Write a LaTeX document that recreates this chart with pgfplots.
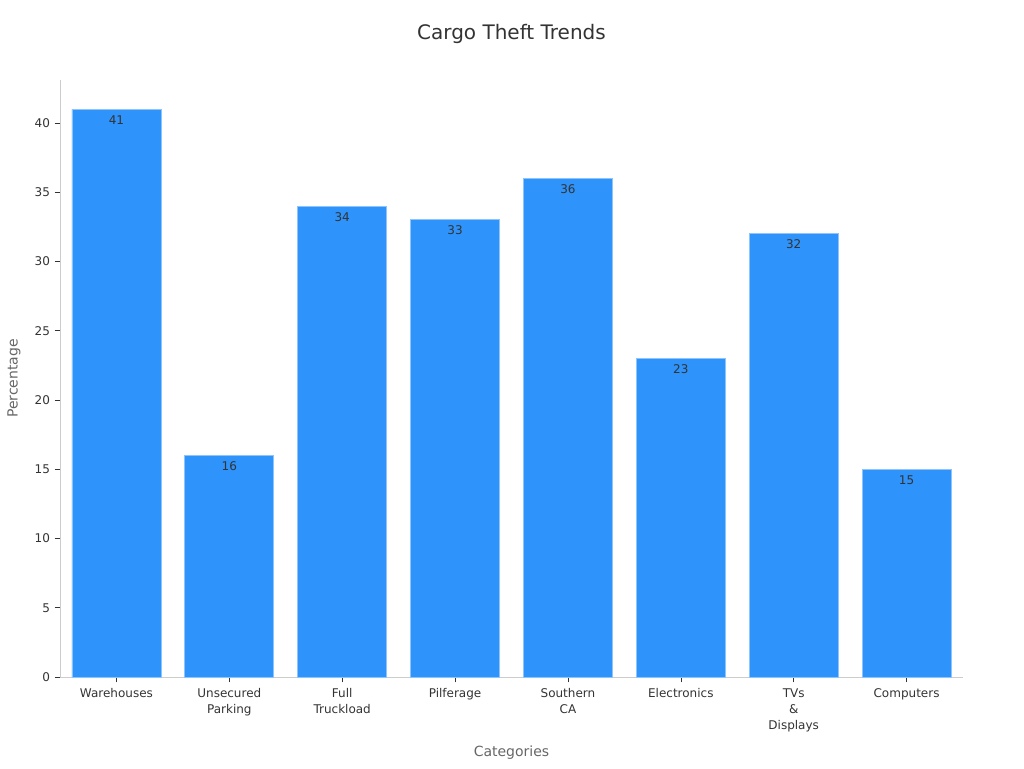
\documentclass[border=0pt]{standalone}
\usepackage{pgfplots}
\pgfplotsset{compat=1.18}
\usepackage{fontspec}
\setmainfont{DejaVu Sans}
\definecolor{barblue}{HTML}{2E93FA}
\definecolor{baredge}{HTML}{8CC4FB}
\definecolor{txt}{HTML}{333333}
\definecolor{lbl}{HTML}{666666}
\definecolor{spine}{HTML}{CCCCCC}
\begin{document}
\begin{tikzpicture}
	\useasboundingbox (-45pt,-68.25pt) rectangle (723pt,507.75pt);
	\begin{axis}[
		at={(0,0)}, anchor=south west,
		scale only axis,
		width=677.25pt,
		height=447.75pt,
		ybar,
		bar width=66.75pt,
		xmin=-0.5, xmax=7.5,
		ymin=0, ymax=43.1,
		xtick=data,
		xticklabels={Warehouses, Unsecured\\Parking, Full\\Truckload, Pilferage, Southern\\CA, Electronics, TVs\\\&\\Displays, Computers},
		x tick label style={align=center, font=\fontsize{9}{12}\selectfont, text=txt, yshift=-1pt},
		ytick={0,5,...,40},
		y tick label style={font=\fontsize{9}{10}\selectfont, text=txt},
		/pgf/number format/assume math mode=true,
		axis x line*=bottom,
		axis y line*=left,
		axis line style={spine},
		tick style={txt, thin},
		tick align=outside,
		major tick length=4pt,
		xlabel={Categories},
		ylabel={Percentage},
		xlabel style={font=\fontsize{10.5}{12}\selectfont, text=lbl, at={(axis description cs:0.5,0)}, anchor=north, yshift=-48pt},
		ylabel style={font=\fontsize{10.5}{12}\selectfont, text=lbl, at={(axis description cs:0,0.5)}, anchor=south, yshift=26pt},
		nodes near coords,
		every node near coord/.append style={anchor=north, font=\fontsize{9}{10}\selectfont, text=txt, yshift=-1pt},
		clip=false,
		]
		\addplot[fill=barblue, draw=baredge, line width=0.6pt] coordinates {
			(0,41) (1,16) (2,34) (3,33) (4,36) (5,23) (6,32) (7,15)
		};
		\node[font=\fontsize{15}{17}\selectfont, text=txt] at (axis description cs:0.5,1.0) [yshift=34.5pt] {Cargo Theft Trends};
	\end{axis}
\end{tikzpicture}
\end{document}
